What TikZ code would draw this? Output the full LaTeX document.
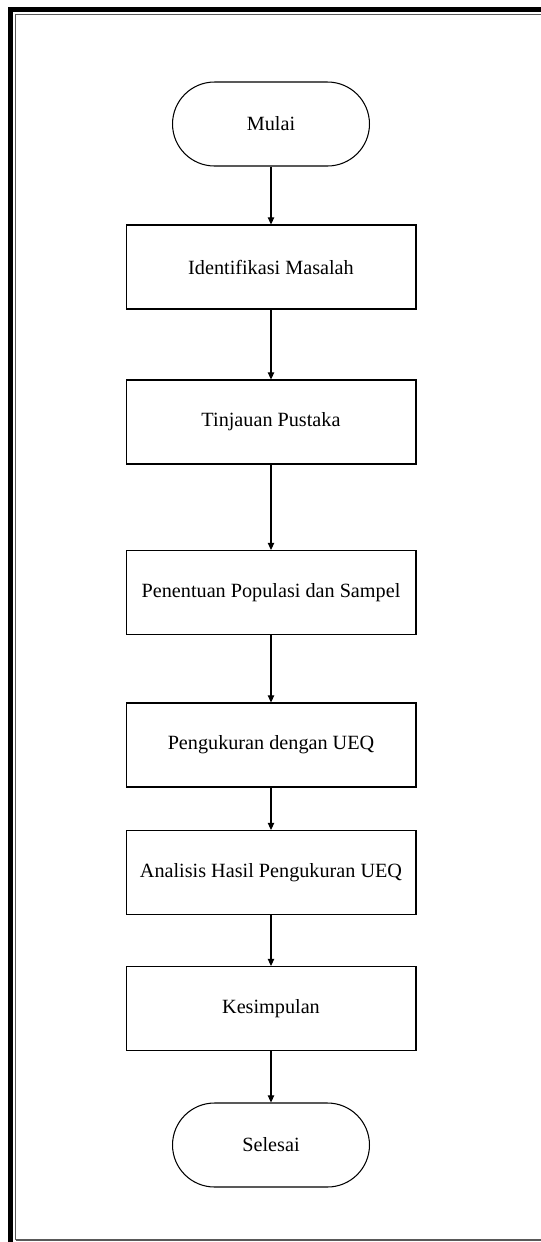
\documentclass[tikz,border=0pt]{standalone}
\usepackage{fontspec}
\setmainfont{Liberation Serif}
\usetikzlibrary{arrows.meta,positioning}

\begin{document}
\begin{tikzpicture}[
    x=0.02cm, y=-0.02cm,
    >={Triangle[length=4pt,width=3.6pt]},
    font=\fontsize{11.5}{14}\selectfont,
    box/.style={
        draw,
        line width=0.6pt,
        minimum width=5.8cm,
        minimum height=1.68cm,
        inner sep=0pt,
        align=center
    },
    term/.style={
        draw,
        line width=0.6pt,
        rounded corners=0.84cm,
        minimum width=3.94cm,
        minimum height=1.68cm,
        inner sep=0pt
    }
]
\useasboundingbox (0,0) rectangle (541,1242);

% page border
\draw[line width=2.8pt] (10.5,1242) -- (10.5,9.5) -- (541,9.5);
\draw[line width=0.9pt, gray!70!black] (15.5,1240) -- (15.5,14.5) -- (541,14.5);
\draw[line width=0.9pt, gray!70!black] (15.5,1240) -- (541,1240);

\node[term] (mulai) at (271,124) {Mulai};
\node[box] (ident) at (271,267) {Identifikasi Masalah};
\node[box] (tinjau) at (271,422) {Tinjauan Pustaka};
\node[box] (popul) at (271,592.5) {Penentuan Populasi dan Sampel};
\node[box] (ukur) at (271,745) {Pengukuran dengan UEQ};
\node[box] (analisis) at (271,872.5) {Analisis Hasil Pengukuran UEQ};
\node[box] (simpul) at (271,1008.5) {Kesimpulan};
\node[term] (selesai) at (271,1145) {Selesai};

\draw[->, line width=0.6pt] (mulai) -- (ident);
\draw[->, line width=0.6pt] (ident) -- (tinjau);
\draw[->, line width=0.6pt] (tinjau) -- (popul);
\draw[->, line width=0.6pt] (popul) -- (ukur);
\draw[->, line width=0.6pt] (ukur) -- (analisis);
\draw[->, line width=0.6pt] (analisis) -- (simpul);
\draw[->, line width=0.6pt] (simpul) -- (selesai);
\end{tikzpicture}
\end{document}
